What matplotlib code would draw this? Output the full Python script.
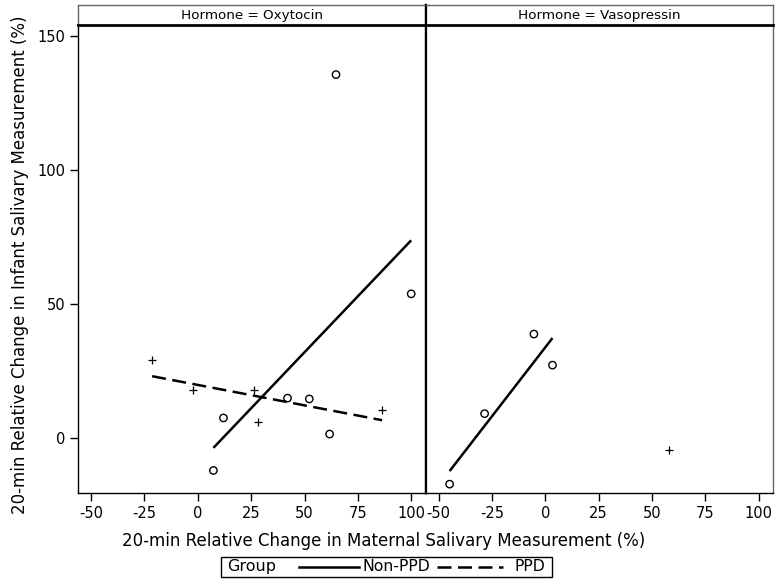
import numpy as np
import matplotlib
matplotlib.use("Agg")
import matplotlib.pyplot as plt
from matplotlib.lines import Line2D
from matplotlib.patches import Rectangle

plt.rcParams['font.family'] = ['DejaVu Sans']

# ---- data ----
panels = ["Oxytocin", "Vasopressin"]

oxy_nonppd_x = [7.3, 12.0, 42.0, 52.2, 61.7, 99.9, 64.7]
oxy_nonppd_y = [-12.1, 7.5, 14.9, 14.6, 1.5, 53.8, 135.6]
oxy_ppd_x = [-21.4, -2.3, 26.4, 28.3, 86.3]
oxy_ppd_y = [29.0, 17.9, 17.8, 5.9, 10.6]

vas_nonppd_x = [-44.8, -28.4, -5.3, 3.4]
vas_nonppd_y = [-17.2, 9.1, 38.8, 27.2]
vas_ppd_x = [58.0]
vas_ppd_y = [-4.6]

x_ticks = [-50, -25, 0, 25, 50, 75, 100]
y_ticks = [0, 50, 100, 150]

data = {
    "Oxytocin": {"Non-PPD": (oxy_nonppd_x, oxy_nonppd_y), "PPD": (oxy_ppd_x, oxy_ppd_y)},
    "Vasopressin": {"Non-PPD": (vas_nonppd_x, vas_nonppd_y), "PPD": (vas_ppd_x, vas_ppd_y)},
}

W, H = 778, 583
fig = plt.figure(figsize=(W / 100, H / 100), dpi=100)

def fx(px):
    return px / W

def fy(py):
    return 1 - py / H

top, bottom = 25, 493
lefts = [78, 425.5]
rights = [425.5, 772.7]
xlim = (-56.1, 106.6)
ylim = (-20.5, 154.1)

dash = (0, (5.6, 2.6))
for i, name in enumerate(panels):
    ax = fig.add_axes([fx(lefts[i]), fy(bottom), fx(rights[i] - lefts[i]), (bottom - top) / H])
    ax.set_xlim(*xlim)
    ax.set_ylim(*ylim)
    d = data[name]
    xs, ys = d["Non-PPD"]
    ax.scatter(xs, ys, s=28, facecolors='none', edgecolors='black', linewidths=1.0, zorder=3)
    if len(xs) > 1:
        m, b = np.polyfit(xs, ys, 1)
        xx = np.array([min(xs), max(xs)])
        ax.plot(xx, m * xx + b, color='black', lw=1.8, solid_capstyle='butt')
    xs, ys = d["PPD"]
    ax.scatter(xs, ys, s=36, marker='+', color='black', linewidths=0.9, zorder=3)
    if len(xs) > 1:
        m, b = np.polyfit(xs, ys, 1)
        xx = np.array([min(xs), max(xs)])
        ax.plot(xx, m * xx + b, color='black', lw=1.8, linestyle=dash, dash_capstyle='butt')
    ax.set_xticks(x_ticks)
    ax.set_xticklabels([str(t) for t in x_ticks], fontsize=10.5)
    ax.tick_params(axis='x', length=6, width=1, pad=3)
    for s in ax.spines.values():
        s.set_color('black')
        s.set_linewidth(1.0)
    ax.spines['top'].set_visible(False)
    if i == 0:
        ax.set_yticks(y_ticks)
        ax.set_yticklabels([str(t) for t in y_ticks], fontsize=10.5)
        ax.tick_params(axis='y', length=6, width=1, pad=3)
        ax.spines['right'].set_linewidth(1.6)
    else:
        ax.set_yticks([])
        ax.spines['left'].set_linewidth(1.6)
        ax.spines['right'].set_color('#666666')

    # header strip
    hx = fig.add_axes([fx(lefts[i]), fy(top), fx(rights[i] - lefts[i]), (top - 5) / H])
    hx.set_xticks([])
    hx.set_yticks([])
    hx.set_xlim(0, 1)
    hx.set_ylim(0, 1)
    for s in hx.spines.values():
        s.set_linewidth(1.0)
    hx.spines['top'].set_color('#666666')
    hx.spines['bottom'].set_color('black')
    hx.spines['bottom'].set_linewidth(2.0)
    if i == 0:
        hx.spines['left'].set_color('#666666')
        hx.spines['right'].set_color('black')
        hx.spines['right'].set_linewidth(1.6)
    else:
        hx.spines['left'].set_color('black')
        hx.spines['left'].set_linewidth(1.6)
        hx.spines['right'].set_color('#666666')
    hx.text(0.5, 0.45, f"Hormone = {name}", ha='center', va='center', fontsize=9.7)

fig.text(fx(384), fy(541), "20-min Relative Change in Maternal Salivary Measurement (%)",
         ha='center', va='center', fontsize=12)
fig.text(fx(20), fy(265), "20-min Relative Change in Infant Salivary Measurement (%)",
         ha='center', va='center', rotation=90, fontsize=12)

# legend box
fig.patches.append(Rectangle((fx(221), fy(576.5)), fx(551.5 - 221), (576.5 - 557) / H,
                             transform=fig.transFigure, fill=False, edgecolor='black', lw=1.0))
ly = fy(566.5)
fig.text(fx(227), ly, "Group", ha='left', va='center', fontsize=11.5)
fig.add_artist(Line2D([fx(299), fx(359)], [ly, ly], color='black', lw=1.8, transform=fig.transFigure))
fig.text(fx(362), ly, "Non-PPD", ha='left', va='center', fontsize=11.3)
fig.add_artist(Line2D([fx(437), fx(503)], [ly, ly], color='black', lw=1.8, linestyle=dash,
                      dash_capstyle='butt', transform=fig.transFigure))
fig.text(fx(515), ly, "PPD", ha='left', va='center', fontsize=11.3)

fig.savefig("out.png", dpi=100)
